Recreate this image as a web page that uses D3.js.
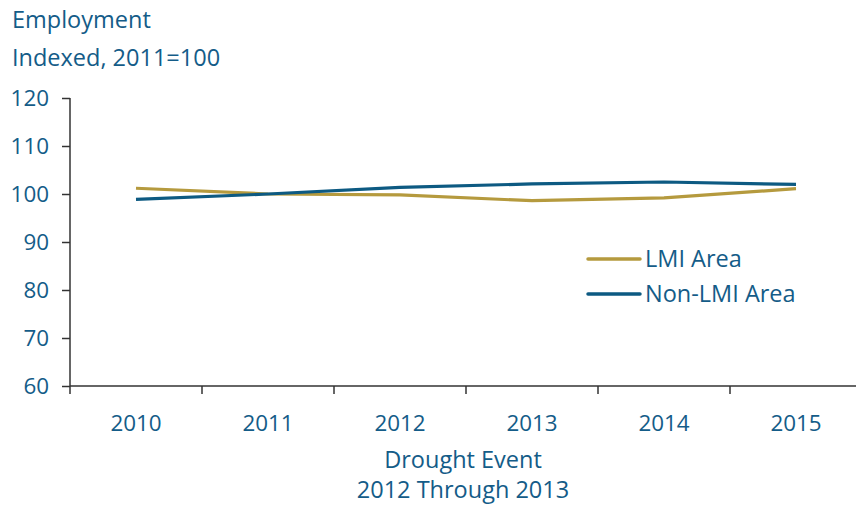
<!DOCTYPE html>
<html><head><meta charset="utf-8">
<script src="https://cdn.jsdelivr.net/npm/d3@7"></script>
<style>body{margin:0;background:#fff}svg{display:block}text{font-family:"Open Sans","Noto Sans",sans-serif}</style>
</head><body>
<svg id="c" width="856" height="510"></svg>
<script>
const years = ["2010","2011","2012","2013","2014","2015"];
const lmi = [101.2, 100.0, 99.8, 98.6, 99.2, 101.1];
const nonLmi = [98.9, 100.0, 101.4, 102.1, 102.5, 102.0];
const yTicks = [60,70,80,90,100,110,120];
const seriesNames = ["LMI Area","Non-LMI Area"];
const colors = ["#b59a3e","#0d5a82"];
const textColor = "#145c88";
const tickFont = 22.4;
const titleFont = 23.5;

const svg = d3.select("#c");
const x = d3.scaleBand().domain(years).range([70, 862]);
const y = d3.scaleLinear().domain([60,120]).range([386, 98]);

// y axis
const ya = svg.append("g").attr("transform","translate(70,0)")
  .call(d3.axisLeft(y).tickValues(yTicks).tickSize(8).tickPadding(13));
ya.select(".domain").attr("stroke","#333").attr("stroke-width",1.5).attr("d","M0,98V394");
ya.selectAll(".tick line").attr("stroke","#333").attr("stroke-width",1.5);
ya.selectAll(".tick text").attr("fill",textColor).attr("font-size",tickFont);

// x axis
const xa = svg.append("g").attr("transform","translate(0,386)")
  .call(d3.axisBottom(x).tickSize(0).tickPadding(29));
xa.select(".domain").attr("stroke","#333").attr("stroke-width",1.5).attr("d","M70,0H862");
xa.selectAll(".tick text").attr("fill",textColor).attr("font-size",tickFont).attr("dy","0.71em");
const bounds = years.slice(1).map(d => x(d));
svg.append("g").selectAll("line").data(bounds).join("line")
  .attr("x1",d=>d).attr("x2",d=>d).attr("y1",386).attr("y2",394)
  .attr("stroke","#333").attr("stroke-width",1.5);

const line = d3.line().x((d,i)=>x(years[i])+x.bandwidth()/2).y(d=>y(d));
[lmi, nonLmi].forEach((s,i)=>{
  svg.append("path").datum(s).attr("d",line).attr("fill","none")
    .attr("stroke",colors[i]).attr("stroke-width",3.2).attr("stroke-linejoin","round");
});

svg.append("text").attr("x",12).attr("y",28).attr("fill",textColor).attr("font-size",titleFont).text("Employment");
svg.append("text").attr("x",12).attr("y",66).attr("fill",textColor).attr("font-size",titleFont).text("Indexed, 2011=100");
svg.append("text").attr("x",463).attr("y",468).attr("text-anchor","middle").attr("fill",textColor).attr("font-size",titleFont).text("Drought Event");
svg.append("text").attr("x",463).attr("y",498).attr("text-anchor","middle").attr("fill",textColor).attr("font-size",titleFont).text("2012 Through 2013");

const lg = svg.append("g");
seriesNames.forEach((n,i)=>{
  const yy = 259 + i*35;
  lg.append("line").attr("x1",588).attr("x2",640).attr("y1",yy).attr("y2",yy)
    .attr("stroke",colors[i]).attr("stroke-width",3.5).attr("stroke-linecap","round");
  lg.append("text").attr("x",645).attr("y",yy+8).attr("fill",textColor).attr("font-size",titleFont).text(n);
});
</script>
</body></html>
